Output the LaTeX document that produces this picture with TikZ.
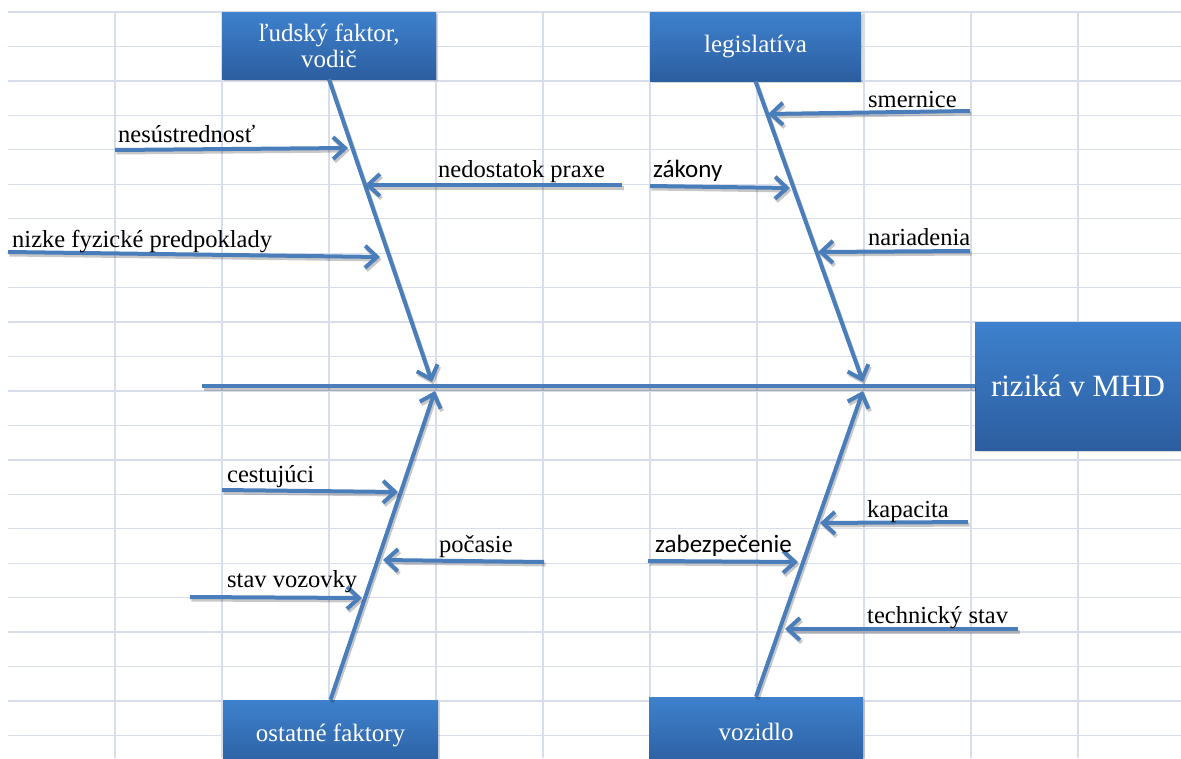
\documentclass[tikz,border=0pt]{standalone}
\usepackage{fontspec}
\setmainfont{Liberation Serif}
\newfontfamily\calib{Carlito}
\usetikzlibrary{arrows.meta,shadows}
\definecolor{bonec}{RGB}{74,126,187}
\definecolor{gridc}{RGB}{216,221,236}
\definecolor{boxtop}{RGB}{62,129,205}
\definecolor{boxbot}{RGB}{44,94,160}
\begin{document}
\begin{tikzpicture}[x=1pt,y=-1pt,
  fbox/.style={rectangle, inner sep=0pt, top color=boxtop, bottom color=boxbot, draw=none,
    text=white, font=\fontsize{25}{26}\selectfont, align=center,
    drop shadow={shadow xshift=2pt,shadow yshift=-2pt,opacity=0.3}},
  lshadow/.style={preaction={draw=black, draw opacity=0.22, line width=4pt,
    transform canvas={shift={(1.5pt,-2.5pt)}}}},
  spine/.style={draw=bonec, line width=4pt, lshadow},
  bone/.style={draw=bonec, line width=4pt, lshadow, -{Straight Barb[length=12pt,width=22pt]}},
  lbl/.style={font=\fontsize{24.5}{25}\selectfont, anchor=base west, inner sep=0pt, text=black},
  slbl/.style={lbl, font=\calib\fontsize{25}{25}\selectfont},
]
\useasboundingbox (0,0) rectangle (1181,758);
\clip (0,0) rectangle (1181,758);
\fill[white] (0,0) rectangle (1181,758);
% grid
\foreach \i in {1,...,10} \draw[gridc, line width=1.3pt] (8+107*\i,12) -- (8+107*\i,758);
\foreach \j in {0,...,21} \draw[gridc, line width=1.3pt] (8,12+34.45*\j) -- (1181,12+34.45*\j);

% boxes
\node[fbox, minimum width=214pt, minimum height=67pt] (hf) at (329,45.5) {ľudský faktor,\\vodič};
\node[fbox, minimum width=211pt, minimum height=69pt] (leg) at (755.5,46.5) {legislatíva};
\node[fbox, minimum width=206pt, minimum height=128pt, font=\fontsize{31}{31}\selectfont] (riz) at (1078,386) {riziká v MHD};
\node[fbox, minimum width=215pt, minimum height=70pt] (ost) at (330.5,735) {ostatné faktory};
\node[fbox, minimum width=214pt, minimum height=70pt] (voz) at (756,732) {vozidlo};

% spine
\coordinate (s0) at (202,386);
\draw[spine] (s0) -- (riz.west);

% main bones
\coordinate (t1) at (432,382);
\coordinate (t2) at (863,382);
\coordinate (t3) at (435,391);
\coordinate (t4) at (863,391);
\draw[bone] (hf.south) -- (t1);
\draw[bone] (leg.south) -- (t2);
\draw[bone] (ost.north) -- (t3);
\draw[bone] (voz.north) -- (t4);

% twigs, upper left
\coordinate (a1) at (115,150); \coordinate (b1) at (348,148);
\coordinate (a2) at (622,185); \coordinate (b2) at (365,185);
\coordinate (a3) at (8,252);   \coordinate (b3) at (380,257);
\draw[bone] (a1) -- (b1);
\draw[bone] (a2) -- (b2);
\draw[bone] (a3) -- (b3);
\node[lbl] (l1) at (118,142) {nesústrednosť};
\node[lbl] (l2) at (438,177) {nedostatok praxe};
\node[lbl] (l3) at (12,247) {nizke fyzické predpoklady};

% twigs, upper right
\coordinate (a4) at (970,111); \coordinate (b4) at (768,114);
\coordinate (a5) at (650,186); \coordinate (b5) at (790,188);
\coordinate (a6) at (970,251); \coordinate (b6) at (818,252);
\draw[bone] (a4) -- (b4);
\draw[bone] (a5) -- (b5);
\draw[bone] (a6) -- (b6);
\node[lbl] (l4) at (868,107) {smernice};
\node[slbl] (l5) at (653,177) {zákony};
\node[lbl] (l6) at (868,245) {nariadenia};

% twigs, lower left
\coordinate (a7) at (222,490); \coordinate (b7) at (398,492);
\coordinate (a8) at (544,562); \coordinate (b8) at (383,560);
\coordinate (a9) at (190,597); \coordinate (b9) at (362,598);
\draw[bone] (a7) -- (b7);
\draw[bone] (a8) -- (b8);
\draw[bone] (a9) -- (b9);
\node[lbl] (l7) at (227,482) {cestujúci};
\node[lbl] (l8) at (439,552) {počasie};
\node[lbl] (l9) at (227,587) {stav vozovky};

% twigs, lower right
\coordinate (a10) at (968,522);  \coordinate (b10) at (820,523);
\coordinate (a11) at (648,561);  \coordinate (b11) at (798,562);
\coordinate (a12) at (1018,629); \coordinate (b12) at (785,629);
\draw[bone] (a10) -- (b10);
\draw[bone] (a11) -- (b11);
\draw[bone] (a12) -- (b12);
\node[lbl] (l10) at (867,517) {kapacita};
\node[slbl] (l11) at (655,552) {zabezpečenie};
\node[lbl] (l12) at (867,623) {technický stav};
\end{tikzpicture}
\end{document}
